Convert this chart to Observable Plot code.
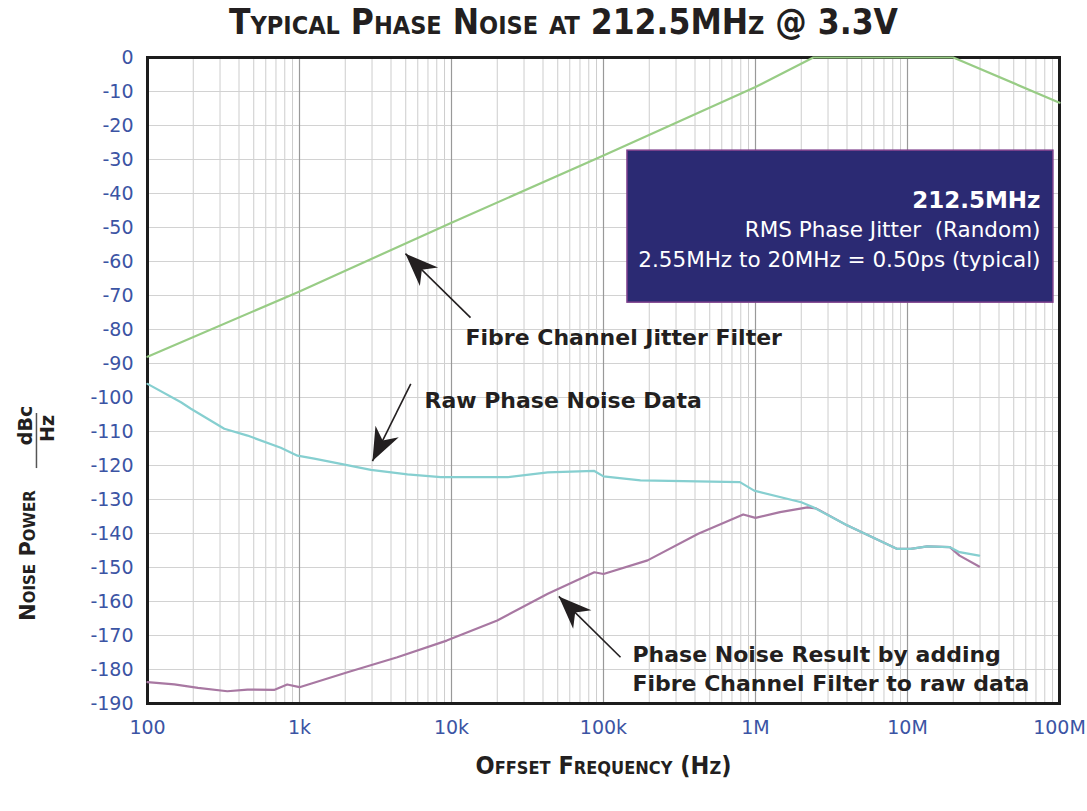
<!DOCTYPE html>
<html><head><meta charset="utf-8">
<script src="https://cdn.jsdelivr.net/npm/d3@7"></script>
<script src="https://cdn.jsdelivr.net/npm/@observablehq/plot@0.6"></script>
<style>
body{margin:0;background:#fff;}
#title{width:1087px;height:47px;box-sizing:border-box;padding-left:40px;text-align:center;
font-family:"Liberation Sans Narrow","DejaVu Sans Condensed",sans-serif;font-stretch:condensed;
font-weight:bold;font-variant:small-caps;font-size:35px;line-height:44px;color:#231f20;white-space:nowrap;}
</style></head><body>
<div id="title">Typical Phase Noise at 212.5MHz @ 3.3V</div>
<div id="chart"></div>
<script>
// ---- data ----
const xTicks = [1e2, 1e3, 1e4, 1e5, 1e6, 1e7, 1e8];
const xTickLabels = ["100", "1k", "10k", "100k", "1M", "10M", "100M"];
const yTicks = [0, -10, -20, -30, -40, -50, -60, -70, -80, -90, -100, -110, -120, -130, -140, -150, -160, -170, -180, -190];

const filterF  = [100, 1e3, 1e4, 1e5, 1e6, 2.4e6, 2.0e7, 1e8];
const filterDb = [-88, -68.8, -48.6, -28.8, -8.7, 0, 0, -13.3];

const rawF  = [100, 166, 193, 320, 455, 753, 970, 1250, 1870, 2950, 5130, 8500, 23500, 43000, 87000, 100000, 175000, 790000, 980000, 2.0e6, 2.4e6, 4.0e6, 8.5e6, 1.05e7, 1.35e7, 1.9e7, 2.2e7, 2.96e7];
const rawDb = [-96, -101.4, -103.3, -109.2, -111.2, -114.8, -117.1, -118, -119.5, -121.3, -122.6, -123.4, -123.4, -122, -121.6, -123.2, -124.4, -124.9, -127.4, -130.8, -132.3, -137.6, -144.5, -144.5, -143.8, -144, -145.5, -146.5];

const resF  = [100, 150, 215, 335, 455, 680, 830, 1000, 2070, 4400, 9300, 20000, 43000, 87000, 100000, 195000, 420000, 830000, 1.0e6, 1.45e6, 2.2e6, 2.5e6, 4.0e6, 8.5e6, 1.05e7, 1.35e7, 1.9e7, 2.2e7, 2.96e7];
const resDb = [-183.7, -184.4, -185.4, -186.4, -185.9, -186, -184.4, -185.2, -180.8, -176.4, -171.5, -165.6, -157.7, -151.4, -151.9, -147.9, -140.1, -134.4, -135.4, -133.7, -132.3, -132.6, -137.6, -144.5, -144.5, -143.8, -144, -146.5, -149.7];

const labelTexts = ["Fibre Channel Jitter Filter", "Raw Phase Noise Data", "Phase Noise Result by adding\nFibre Channel Filter to raw data"];
const labelF  = [12360, 6640, 155000];
const labelDb = [-81.8, -100.3, -179.3];

const arrowTailF  = [13340, 5395, 129400];
const arrowTailDb = [-76.5, -96, -176.4];
const arrowTipF   = [4977, 3020, 50800];
const arrowTipDb  = [-57.7, -118.7, -158.5];

const boxF  = [143800, 9.12e7];
const boxDb = [-27.4, -72.1];
const boxHeader = "212.5MHz";
const boxLines = ["RMS Phase Jitter  (Random)", "2.55MHz to 20MHz = 0.50ps (typical)"];
const boxTextF = 7.5e7;
const boxTextDb = [-42.2, -50.8, -59.6];

const fracLineF = 18.6;
const fracLineDb = [-104.7, -120.9];

// ---- tables ----
const zip = (F, D) => F.map((f, i) => ({f, db: D[i]}));
const filterData = zip(filterF, filterDb);
const rawData = zip(rawF, rawDb);
const resData = zip(resF, resDb);
const labels = labelTexts.map((t, i) => ({text: t, f: labelF[i], db: labelDb[i]}));
const arrows = arrowTipF.map((f, i) => ({tf: arrowTailF[i], tdb: arrowTailDb[i], f, db: arrowTipDb[i]}));
const boxText = [{text: boxHeader, db: boxTextDb[0]}, ...boxLines.map((t, i) => ({text: t, db: boxTextDb[i + 1]}))];
const xMinor = xTicks.slice(0, -1).flatMap(d => [2,3,4,5,6,7,8,9].map(k => d * k));
const labelMap = new Map(xTicks.map((t, i) => [t, xTickLabels[i]]));

const blue = "#3b54a4";
const ink = "#231f20";
const arrowHead = {
  draw(ctx, size) {
    const r = Math.sqrt(size / Math.PI);
    const L = 3.3 * r, w = 1.3 * r, n = 2.3 * r;
    ctx.moveTo(0, 0); ctx.lineTo(w, L); ctx.lineTo(0, n); ctx.lineTo(-w, L); ctx.closePath();
  }
};

function build(angles) {
  return Plot.plot({
    width: 1087, height: 764,
    marginLeft: 147, marginRight: 28, marginTop: 10, marginBottom: 108,
    style: {fontFamily: "DejaVu Sans", background: "white"},
    x: {type: "log", domain: [100, 1e8]},
    y: {domain: [-190, 0]},
    marks: [
      Plot.ruleX(xMinor, {stroke: "#cdcdcd", strokeWidth: 1}),
      Plot.ruleY(yTicks, {stroke: "#d2d2d2", strokeWidth: 1}),
      Plot.ruleX(xTicks.slice(1, -1), {stroke: "#999999", strokeWidth: 1.2}),
      Plot.rect([0], {x1: () => boxF[0], x2: () => boxF[1], y1: () => boxDb[0], y2: () => boxDb[1], fill: "#2b2a73", stroke: "#7d3f8c", strokeWidth: 1.5}),
      Plot.frame({stroke: "#1c1c1c", strokeWidth: 3}),
      Plot.line(resData, {x: "f", y: "db", stroke: "#a878a2", strokeWidth: 2.2}),
      Plot.line(rawData, {x: "f", y: "db", stroke: "#86cfd0", strokeWidth: 2.2}),
      Plot.line(filterData, {x: "f", y: "db", stroke: "#98cc85", strokeWidth: 2.2}),
      Plot.axisX(xTicks, {tickSize: 0, tickPadding: 17, tickFormat: d => labelMap.get(d), fill: blue, fontSize: 19, label: null}),
      Plot.axisY(yTicks, {tickSize: 0, tickPadding: 14, tickFormat: d => String(d), fill: blue, fontSize: 19, label: null}),
      Plot.link(arrows, {x1: "tf", y1: "tdb", x2: "f", y2: "db", stroke: ink, strokeWidth: 1.6}),
      Plot.dot(arrows, {x: "f", y: "db", symbol: arrowHead, r: 10, fill: ink, stroke: "none", rotate: (d, i) => angles[i]}),
      Plot.text(labels, {x: "f", y: "db", text: "text", textAnchor: "start", fill: ink, fontWeight: "bold", fontSize: 22, lineHeight: 1.3}),
      Plot.text(boxText.slice(0, 1), {x: () => boxTextF, y: "db", text: "text", textAnchor: "end", fill: "white", fontWeight: "bold", fontSize: 23}),
      Plot.text(boxText.slice(1), {x: () => boxTextF, y: "db", text: "text", textAnchor: "end", fill: "white", fontSize: 21.5}),
      Plot.text(["Offset Frequency (Hz)"], {text: d => d, frameAnchor: "bottom", dy: 62, textAnchor: "middle", lineAnchor: "middle", fill: ink, fontWeight: "bold", fontVariant: "small-caps", fontSize: 25, fontFamily: "Liberation Sans Narrow, DejaVu Sans Condensed, sans-serif"}),
      Plot.text(["Noise Power"], {text: d => d, frameAnchor: "left", dx: -119, dy: 175, rotate: -90, textAnchor: "middle", lineAnchor: "middle", fill: ink, fontWeight: "bold", fontVariant: "small-caps", fontSize: 21}),
      Plot.text(["dBc"], {text: d => d, frameAnchor: "left", dx: -122, dy: 45, rotate: -90, textAnchor: "middle", lineAnchor: "middle", fill: ink, fontWeight: "bold", fontSize: 19}),
      Plot.text(["Hz"], {text: d => d, frameAnchor: "left", dx: -100, dy: 48, rotate: -90, textAnchor: "middle", lineAnchor: "middle", fill: ink, fontWeight: "bold", fontSize: 19}),
      Plot.ruleX([fracLineF], {y1: () => fracLineDb[0], y2: () => fracLineDb[1], stroke: "#555", strokeWidth: 1.5})
    ]
  });
}

let plot = build(arrows.map(() => 0));
const sx = plot.scale("x"), sy = plot.scale("y");
const px = v => sx.apply ? sx.apply(v) : d3.scaleLog(sx.domain, sx.range)(v);
const py = v => sy.apply ? sy.apply(v) : d3.scaleLinear(sy.domain, sy.range)(v);
const angles = arrows.map(a => {
  const dx = px(a.f) - px(a.tf), dy = py(a.db) - py(a.tdb);
  return Math.atan2(dx, -dy) * 180 / Math.PI;
});
plot = build(angles);
document.getElementById("chart").appendChild(plot);
</script>
</body></html>
